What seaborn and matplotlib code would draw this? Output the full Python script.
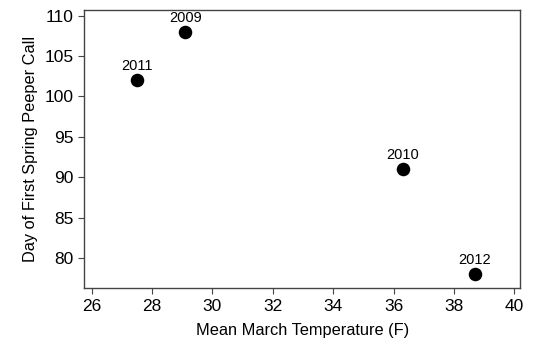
import pandas as pd
import seaborn as sns
import matplotlib.pyplot as plt

# spring peeper first call vs mean march temperature
years = ["2009", "2010", "2011", "2012"]
temp = [29.1, 36.3, 27.5, 38.7]
day = [108, 91, 102, 78]

df = pd.DataFrame({"year": years, "temp": temp, "day": day})

sns.set_style("ticks")
plt.rcParams['font.family'] = ['Liberation Sans', 'DejaVu Sans']
plt.rcParams['text.color'] = 'black'
plt.rcParams['axes.labelcolor'] = 'black'
plt.rcParams['xtick.labelcolor'] = 'black'
plt.rcParams['ytick.labelcolor'] = 'black'

fig, ax = plt.subplots(figsize=(5.46, 3.43), dpi=100)
fig.subplots_adjust(left=0.154, right=0.953, top=0.971, bottom=0.16)

sns.scatterplot(data=df, x="temp", y="day", color="black", s=95,
                edgecolor="black", linewidth=0, ax=ax, legend=False)

for _, r in df.iterrows():
    ax.annotate(r["year"], (r["temp"], r["day"]), xytext=(0, 5),
                textcoords="offset points", ha="center", va="bottom",
                fontsize=10.5, color="black")

ax.set_xlim(25.75, 40.2)
ax.set_ylim(76.3, 110.7)
ax.set_xticks(range(26, 41, 2))
ax.set_yticks(range(80, 111, 5))
ax.tick_params(labelsize=12.5, length=4, width=0.8, color="#444444")
ax.set_xlabel("Mean March Temperature (F)", fontsize=11.8, labelpad=7)
ax.set_ylabel("Day of First Spring Peeper Call", fontsize=11.8, labelpad=5)
for sp in ax.spines.values():
    sp.set_visible(True)
    sp.set_color("#444444")
    sp.set_linewidth(1)

plt.savefig("out.png", dpi=100)
